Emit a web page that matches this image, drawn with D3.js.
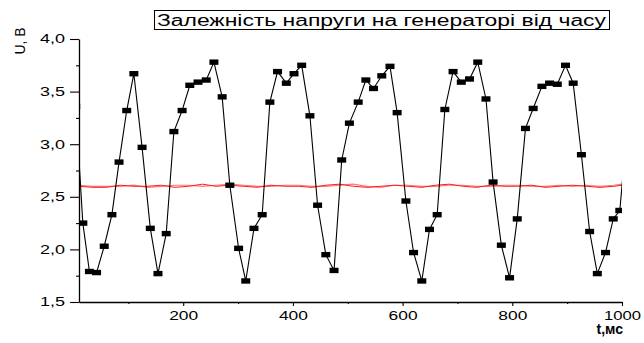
<!DOCTYPE html>
<html>
<head>
<meta charset="utf-8">
<script src="https://cdn.jsdelivr.net/npm/d3@7/dist/d3.min.js"></script>
<style>
  html, body { margin: 0; padding: 0; background: #fff; }
  svg { display: block; font-family: "Liberation Sans", Arial, sans-serif; }
</style>
</head>
<body>
<svg id="chart" width="644" height="343"></svg>
<script>
// Measured generator voltage: time (ms) and voltage (V)
const timeMs = [4, 17, 29, 42, 56, 70, 83, 97, 110, 125, 140, 154, 169, 183, 198, 212, 227, 242, 256, 271,
  285, 301, 314, 329, 344, 358, 372, 388, 402, 416, 431, 445, 460, 475, 489, 503, 519, 533, 547, 562,
  577, 590, 606, 620, 635, 649, 663, 677, 692, 707, 722, 737, 752, 765, 780, 795, 809, 824, 838, 854,
  868, 882, 897, 911, 926, 941, 955, 970, 984, 996, 1010];
const voltage = [3.36, 2.25, 1.79, 1.78, 2.03, 2.33, 2.83, 3.32, 3.67, 2.97, 2.20, 1.77, 2.15, 3.12, 3.32, 3.56, 3.59, 3.61, 3.78, 3.45,
  2.61, 2.01, 1.70, 2.20, 2.33, 3.40, 3.69, 3.58, 3.67, 3.75, 3.27, 2.42, 1.95, 1.80, 2.85, 3.20, 3.40, 3.61, 3.53, 3.65,
  3.74, 3.30, 2.46, 1.97, 1.70, 2.19, 2.33, 3.33, 3.69, 3.59, 3.62, 3.78, 3.43, 2.64, 2.04, 1.73, 2.29, 3.15, 3.34, 3.55,
  3.58, 3.57, 3.75, 3.58, 2.90, 2.17, 1.77, 1.97, 2.29, 2.37, 3.20];

// Reference level traces (two overlapping recordings)
const refTime = [10, 35, 60, 85, 110, 135, 160, 185, 210, 235, 260, 285, 310, 335, 360, 385, 410, 435, 460, 485,
  510, 535, 560, 585, 610, 635, 660, 685, 710, 735, 760, 785, 810, 835, 860, 885, 910, 935, 960, 985, 1000];
const refA = [2.60, 2.59, 2.59, 2.61, 2.60, 2.60, 2.61, 2.59, 2.60, 2.62, 2.60, 2.61, 2.60, 2.59, 2.61, 2.60, 2.60, 2.59, 2.61, 2.62,
  2.60, 2.59, 2.60, 2.61, 2.60, 2.59, 2.61, 2.62, 2.60, 2.59, 2.61, 2.60, 2.60, 2.61, 2.59, 2.60, 2.61, 2.60, 2.59, 2.60, 2.61];
const refB = [2.61, 2.60, 2.60, 2.60, 2.61, 2.59, 2.60, 2.61, 2.61, 2.60, 2.61, 2.62, 2.61, 2.60, 2.60, 2.61, 2.61, 2.60, 2.60, 2.61,
  2.62, 2.60, 2.59, 2.61, 2.61, 2.60, 2.60, 2.61, 2.61, 2.60, 2.60, 2.61, 2.61, 2.60, 2.60, 2.61, 2.60, 2.61, 2.60, 2.61, 2.62];

const xMajorTicks = [200, 400, 600, 800, 1000];
const xMinorTicks = [100, 300, 500, 700, 900];
const yMajorTicks = [1.5, 2.0, 2.5, 3.0, 3.5, 4.0];
const yMinorTicks = [1.75, 2.25, 2.75, 3.25, 3.75];

const titleText = "Залежність напруги на генераторі від часу";
const xLabel = "t,мс";
const yLabel = "U, B";

const svg = d3.select("#chart");
const plotLeft = 79, plotRight = 622, plotTop = 39, plotBottom = 302;

const x = d3.scaleLinear().domain([10, 1000]).range([plotLeft, plotRight]);
const y = d3.scaleLinear().domain([1.5, 4.0]).range([plotBottom, plotTop]);

const comma = d => d3.format(".1f")(d).replace(".", ",");

svg.append("defs").append("clipPath").attr("id", "plot-clip")
  .append("rect").attr("x", plotLeft).attr("y", plotTop - 10)
  .attr("width", plotRight - plotLeft).attr("height", plotBottom - plotTop + 10);

const plot = svg.append("g").attr("clip-path", "url(#plot-clip)");

// reference level traces
const refLine = d3.line().x((d, i) => x(refTime[i])).y(d => y(d));
plot.append("path").datum(refB).attr("d", refLine)
  .attr("fill", "none").attr("stroke", "#ff7a7a").attr("stroke-width", 1.2);
plot.append("path").datum(refA).attr("d", refLine)
  .attr("fill", "none").attr("stroke", "#ff1a1a").attr("stroke-width", 1);

// voltage series
const pts = timeMs.map((t, i) => ({ t, v: voltage[i] }));
plot.append("path").datum(pts)
  .attr("d", d3.line().x(d => x(d.t)).y(d => y(d.v)))
  .attr("fill", "none").attr("stroke", "#000").attr("stroke-width", 1.1);
plot.selectAll("rect.pt").data(pts).join("rect").attr("class", "pt")
  .attr("x", d => x(d.t) - 4.5).attr("y", d => y(d.v) - 2.7)
  .attr("width", 9).attr("height", 5.4).attr("fill", "#000");

// axes
const xAxis = svg.append("g").attr("transform", `translate(0,${plotBottom})`)
  .call(d3.axisBottom(x).tickValues(xMajorTicks).tickSize(4).tickSizeOuter(0).tickPadding(5)
    .tickFormat(d3.format("d")));
svg.append("g").attr("transform", `translate(0,${plotBottom})`)
  .call(d3.axisBottom(x).tickValues(xMinorTicks).tickSize(2).tickSizeOuter(0).tickFormat(""))
  .select(".domain").remove();
const yAxis = svg.append("g").attr("transform", `translate(${plotLeft},0)`)
  .call(d3.axisLeft(y).tickValues(yMajorTicks).tickSize(9).tickSizeOuter(0).tickPadding(5).tickFormat(comma));
svg.append("g").attr("transform", `translate(${plotLeft},0)`)
  .call(d3.axisLeft(y).tickValues(yMinorTicks).tickSize(3).tickSizeOuter(0).tickFormat(""))
  .select(".domain").remove();

svg.selectAll(".domain").attr("stroke", "#000").attr("stroke-width", 1.3);
svg.selectAll(".tick line").attr("stroke", "#000").attr("stroke-width", 1.1);

xAxis.selectAll("text").attr("font-size", 12).attr("fill", "#000")
  .attr("font-family", "Liberation Sans, Arial, sans-serif")
  .attr("textLength", d => d >= 1000 ? 37 : 29).attr("lengthAdjust", "spacingAndGlyphs");
yAxis.selectAll("text").attr("font-size", 12).attr("fill", "#000")
  .attr("font-family", "Liberation Sans, Arial, sans-serif")
  .attr("textLength", 25).attr("lengthAdjust", "spacingAndGlyphs");

// title box
const titleG = svg.append("g");
titleG.append("rect").attr("x", 154.5).attr("y", 10.5).attr("width", 455).attr("height", 19)
  .attr("fill", "#fff").attr("stroke", "#000").attr("stroke-width", 1);
titleG.append("text").attr("x", 157).attr("y", 26).attr("font-size", 16)
  .attr("textLength", 449).attr("lengthAdjust", "spacingAndGlyphs")
  .attr("fill", "#000").text(titleText);

// axis titles
svg.append("text").attr("x", 623).attr("y", 334).attr("text-anchor", "end")
  .attr("font-size", 14).attr("font-weight", "bold").attr("fill", "#000").text(xLabel);
svg.append("text").attr("transform", "translate(25,41) rotate(-90)").attr("text-anchor", "middle")
  .attr("font-size", 14).attr("fill", "#000").text(yLabel);
</script>
</body>
</html>
